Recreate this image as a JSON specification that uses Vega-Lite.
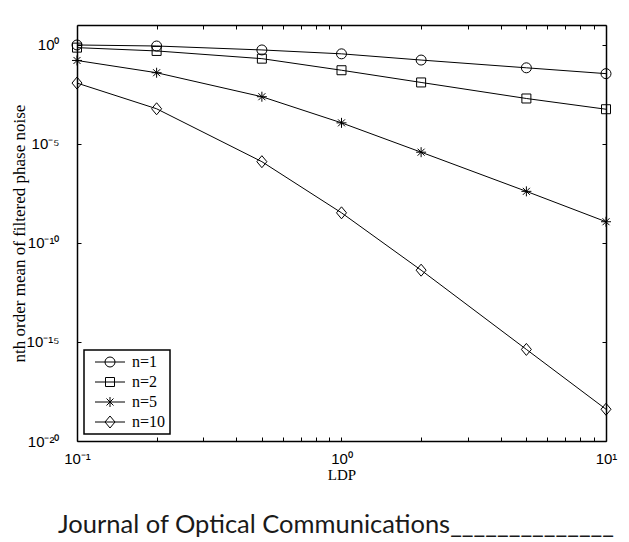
{
  "$schema": "https://vega.github.io/schema/vega-lite/v6.json",
  "width": 529,
  "height": 416,
  "autosize": {"type": "none"},
  "padding": {"left": 77, "top": 25, "right": 23, "bottom": 101},
  "background": "white",
  "config": {
    "view": {"stroke": null},
    "axis": {
      "domainColor": "black",
      "domainWidth": 1.5,
      "tickColor": "black",
      "tickWidth": 1,
      "tickSize": -4,
      "grid": false,
      "labelFont": "Liberation Sans",
      "labelFontSize": 15,
      "labelColor": "black",
      "labelFlush": false,
      "titleFont": "Liberation Serif",
      "titleFontSize": 15,
      "titleFontWeight": "normal",
      "titleColor": "black"
    },
    "legend": {"strokeWidth": 1.5}
  },
  "title": {
    "text": "Journal of Optical Communications______________",
    "orient": "bottom",
    "anchor": "start",
    "frame": "group",
    "font": "Lato",
    "fontSize": 25.5,
    "fontWeight": "normal",
    "color": "#1a1a1a",
    "dx": -19,
    "offset": 31
  },
  "data": {
    "values": [
      {"LDP": 0.1, "series": "n=1", "value": 0.98},
      {"LDP": 0.2, "series": "n=1", "value": 0.87},
      {"LDP": 0.5, "series": "n=1", "value": 0.55},
      {"LDP": 1, "series": "n=1", "value": 0.35},
      {"LDP": 2, "series": "n=1", "value": 0.17},
      {"LDP": 5, "series": "n=1", "value": 0.069},
      {"LDP": 10, "series": "n=1", "value": 0.035},
      {"LDP": 0.1, "series": "n=2", "value": 0.72},
      {"LDP": 0.2, "series": "n=2", "value": 0.49},
      {"LDP": 0.5, "series": "n=2", "value": 0.2},
      {"LDP": 1, "series": "n=2", "value": 0.052},
      {"LDP": 2, "series": "n=2", "value": 0.0126},
      {"LDP": 5, "series": "n=2", "value": 0.00195},
      {"LDP": 10, "series": "n=2", "value": 0.00056},
      {"LDP": 0.1, "series": "n=5", "value": 0.162},
      {"LDP": 0.2, "series": "n=5", "value": 0.039},
      {"LDP": 0.5, "series": "n=5", "value": 0.0024},
      {"LDP": 1, "series": "n=5", "value": 0.000115},
      {"LDP": 2, "series": "n=5", "value": 3.8e-6},
      {"LDP": 5, "series": "n=5", "value": 4.0e-8},
      {"LDP": 10, "series": "n=5", "value": 1.17e-9},
      {"LDP": 0.1, "series": "n=10", "value": 0.0117},
      {"LDP": 0.2, "series": "n=10", "value": 0.00059},
      {"LDP": 0.5, "series": "n=10", "value": 1.26e-6},
      {"LDP": 1, "series": "n=10", "value": 3.3e-9},
      {"LDP": 2, "series": "n=10", "value": 4.2e-12},
      {"LDP": 5, "series": "n=10", "value": 4.2e-16},
      {"LDP": 10, "series": "n=10", "value": 4.0e-19}
    ]
  },
  "layer": [
    {
      "mark": {"type": "line", "color": "black", "strokeWidth": 1},
      "encoding": {
        "x": {
          "field": "LDP", "type": "quantitative",
          "scale": {"type": "log", "domain": [0.1, 10], "nice": false},
          "axis": {
            "orient": "bottom",
            "title": "LDP",
            "titlePadding": 1,
            "labelPadding": 14,
            "values": [0.1, 0.2, 0.3, 0.4, 0.5, 0.6, 0.7, 0.8, 0.9, 1, 2, 3, 4, 5, 6, 7, 8, 9, 10],
            "labelExpr": "abs(datum.value - 0.1) < 1e-9 ? '10⁻¹' : abs(datum.value - 1) < 1e-9 ? '10⁰' : abs(datum.value - 10) < 1e-9 ? '10¹' : ''",
            "labelOverlap": false
          }
        },
        "y": {
          "field": "value", "type": "quantitative",
          "scale": {"type": "log", "domain": [1e-20, 10], "nice": false},
          "axis": {
            "orient": "left",
            "title": "nth order mean of filtered phase noise",
            "titleFontSize": 17,
            "titlePadding": -2,
            "labelPadding": 22,
            "values": [1, 1e-5, 1e-10, 1e-15, 1e-20],
            "labelExpr": "datum.value >= 0.5 ? '10⁰' : datum.value > 1e-7 ? '10⁻⁵' : datum.value > 1e-12 ? '10⁻¹⁰' : datum.value > 1e-17 ? '10⁻¹⁵' : '10⁻²⁰'",
            "labelOverlap": false
          }
        },
        "detail": {"field": "series"}
      }
    },
    {
      "mark": {"type": "point", "filled": false, "stroke": "black", "strokeWidth": 1, "size": 100, "opacity": 1},
      "encoding": {
        "x": {"field": "LDP", "type": "quantitative", "axis": null},
        "y": {"field": "value", "type": "quantitative", "axis": null},
        "shape": {
          "field": "series", "type": "nominal",
          "scale": {
            "domain": ["n=1", "n=2", "n=5", "n=10"],
            "range": [
              "M-1,0A1,1 0 1,0 1,0A1,1 0 1,0 -1,0Z",
              "M-0.9,-0.9H0.9V0.9H-0.9Z",
              "M0,-1V1M-1,0H1M-0.7,-0.7L0.7,0.7M-0.7,0.7L0.7,-0.7",
              "M0,-1.2L1,0L0,1.2L-1,0Z"
            ]
          },
          "legend": null
        }
      }
    },
    {
      "transform": [{"filter": "datum.value < 0"}],
      "mark": {"type": "point", "filled": false, "stroke": "black", "strokeWidth": 1, "size": 100, "opacity": 1},
      "encoding": {
        "x": {
          "field": "LDP", "type": "quantitative",
          "axis": {
            "orient": "top", "title": null, "labels": false,
            "values": [0.1, 0.2, 0.3, 0.4, 0.5, 0.6, 0.7, 0.8, 0.9, 1, 2, 3, 4, 5, 6, 7, 8, 9, 10]
          }
        },
        "y": {
          "field": "value", "type": "quantitative",
          "axis": {
            "orient": "right", "title": null, "labels": false,
            "values": [1, 1e-5, 1e-10, 1e-15, 1e-20]
          }
        },
        "shape": {
          "field": "series", "type": "nominal",
          "scale": {
            "domain": ["n=1", "n=2", "n=5", "n=10"],
            "range": [
              "M-3,0H3M-1,0A1,1 0 1,0 1,0A1,1 0 1,0 -1,0Z",
              "M-3,0H3M-0.9,-0.9H0.9V0.9H-0.9Z",
              "M-3,0H3M0,-1V1M-0.7,-0.7L0.7,0.7M-0.7,0.7L0.7,-0.7",
              "M-3,0H3M0,-1.2L1,0L0,1.2L-1,0Z"
            ]
          },
          "legend": {
            "title": null,
            "orient": "bottom-left",
            "offset": 7,
            "strokeColor": "black",
            "fillColor": "white",
            "padding": 4,
            "rowPadding": 4,
            "symbolSize": 100,
            "symbolStrokeWidth": 1,
            "symbolStrokeColor": "black",
            "symbolFillColor": "transparent",
            "symbolOffset": 14,
            "labelOffset": 14,
            "labelFont": "Liberation Serif",
            "labelFontSize": 16,
            "labelColor": "black"
          }
        }
      }
    }
  ],
  "resolve": {
    "scale": {"shape": "independent"},
    "axis": {"x": "independent", "y": "independent"}
  }
}
